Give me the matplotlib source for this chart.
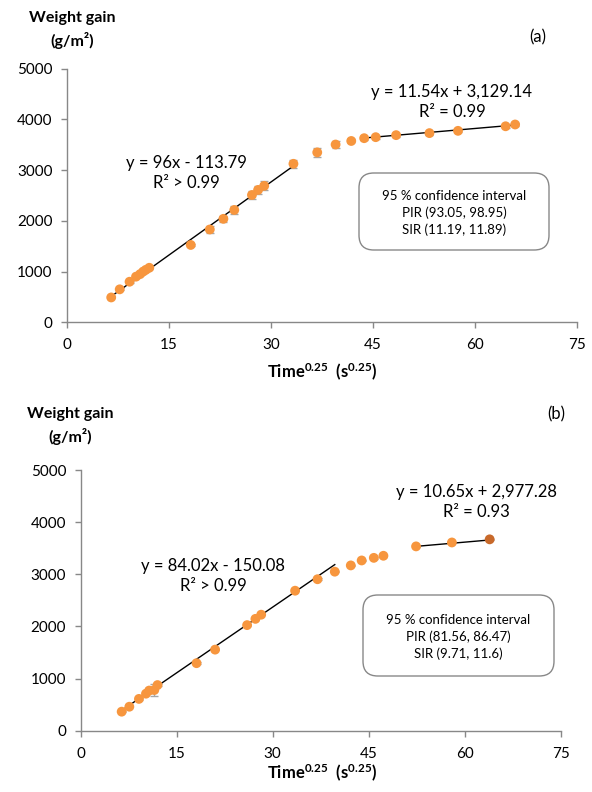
import matplotlib
matplotlib.use("Agg")
import matplotlib.pyplot as plt
from matplotlib.patches import FancyBboxPatch
import numpy as np

plt.rcParams['font.family'] = ['Lato', 'DejaVu Sans']
plt.rcParams['mathtext.fontset'] = 'custom'
plt.rcParams['mathtext.rm'] = 'Lato'
plt.rcParams['mathtext.bf'] = 'Lato:bold'

# ---- Panel (a) data ----
time_a = [6.5, 7.75, 9.2, 10.15, 10.75, 11.2, 11.6, 12.1, 18.2, 21.0, 23.0, 24.6,
          27.2, 28.1, 29.0, 33.3, 36.8, 39.5, 41.8, 43.7, 45.4, 48.4, 53.3, 57.5,
          64.5, 65.9]
gain_a = [490, 650, 800, 900, 950, 1000, 1035, 1075, 1525, 1830, 2040, 2215,
          2510, 2610, 2690, 3125, 3350, 3505, 3575, 3630, 3650, 3690, 3730, 3775,
          3865, 3900]
err_a = [20, 20, 20, 20, 20, 20, 20, 20, 20, 60, 60, 70,
         80, 80, 90, 80, 90, 60, 30, 30, 30, 30, 30, 30,
         30, 30]
fit1_a = (96.0, -113.79)       # slope, intercept
fit2_a = (11.54, 3129.14)
fit1_a_idx = (0, 15)           # first / last point used by each fit
fit2_a_idx = (19, 25)
eq1_a = "y = 96x - 113.79\nR² > 0.99"
eq2_a = "y = 11.54x + 3,129.14\nR² = 0.99"
ci_a = "95 % confidence interval\nPIR (93.05, 98.95)\nSIR (11.19, 11.89)"

# ---- Panel (b) data ----
time_b = [6.4, 7.6, 9.1, 10.2, 10.7, 11.5, 12.0, 18.1, 21.0, 26.0, 27.3, 28.2,
          33.5, 37.0, 39.7, 42.2, 43.9, 45.8, 47.3, 52.4, 58.0, 63.9]
gain_b = [365, 460, 610, 710, 770, 780, 875, 1295, 1555, 2025, 2145, 2225,
          2685, 2905, 3050, 3170, 3265, 3315, 3355, 3535, 3610, 3670]
err_b = [15, 15, 15, 15, 40, 120, 15, 15, 15, 15, 15, 15,
         15, 15, 15, 15, 15, 15, 15, 15, 15, 15]
fit1_b = (84.02, -150.08)
fit2_b = (10.65, 2977.28)
fit1_b_idx = (0, 14)
fit2_b_idx = (19, 21)
eq1_b = "y = 84.02x - 150.08\nR² > 0.99"
eq2_b = "y = 10.65x + 2,977.28\nR² = 0.93"
ci_b = "95 % confidence interval\nPIR (81.56, 86.47)\nSIR (9.71, 11.6)"

x_ticks = [0, 15, 30, 45, 60, 75]
y_ticks = [0, 1000, 2000, 3000, 4000, 5000]

ORANGE = '#F7963E'
DARK_ORANGE = '#C8692A'
AXIS_GREY = '#888888'
ERR_GREY = '#A6A6A6'

W, H = 592, 792
fig = plt.figure(figsize=(W / 100, H / 100), dpi=100)


def fpx(x, y):
    return x / W, 1 - y / H


def make_axes(left, right, top, bottom):
    l, t = fpx(left, top)
    r, b = fpx(right, bottom)
    return fig.add_axes([l, b, r - l, t - b])


def style_axes(ax):
    ax.set_xlim(0, 75)
    ax.set_ylim(0, 5000)
    ax.set_xticks(x_ticks)
    ax.set_yticks(y_ticks)
    for s in ('top', 'right'):
        ax.spines[s].set_visible(False)
    for s in ('left', 'bottom'):
        ax.spines[s].set_color(AXIS_GREY)
        ax.spines[s].set_linewidth(1.0)
    ax.tick_params(axis='both', direction='out', length=4.5, width=1.0,
                   color=AXIS_GREY, labelsize=11, labelcolor='black')
    ax.tick_params(axis='x', pad=7)
    ax.tick_params(axis='y', pad=6)


def draw_fit(ax, x, fit, idx):
    xs = np.array([x[idx[0]], x[idx[1]]])
    ax.plot(xs, fit[0] * xs + fit[1], color='black', lw=1.0, zorder=2)


def draw_panel(ax, x, y, err, fits, last_dark=False):
    ax.errorbar(x, y, yerr=err, fmt='none', ecolor=ERR_GREY, elinewidth=1.0,
                capsize=3, capthick=1.0, zorder=1)
    colors = [ORANGE] * len(x)
    if last_dark:
        colors[-1] = DARK_ORANGE
    ax.scatter(x, y, s=50, c=colors, edgecolors='none', zorder=3)
    for fit, idx in fits:
        draw_fit(ax, x, fit, idx)


def ci_box(x0, y0, x1, y1, text, text_y):
    (fx0, fy1) = fpx(x0, y1)
    (fx1, fy0) = fpx(x1, y0)
    patch = FancyBboxPatch((fx0, fy1), fx1 - fx0, fy0 - fy1,
                           boxstyle="round,pad=0,rounding_size=0.025",
                           transform=fig.transFigure, facecolor='white',
                           edgecolor=AXIS_GREY, linewidth=1.0,
                           mutation_aspect=W / H)
    fig.add_artist(patch)
    cx, cy = fpx((x0 + x1) / 2, text_y)
    fig.text(cx, cy, text, ha='center', va='center', fontsize=9.5,
             linespacing=1.45)


xlabel = r"$\mathbf{Time^{0.25}\ \,(s^{0.25})}$"

# ---- (a) ----
ax_a = make_axes(67, 577, 68.7, 322.3)
style_axes(ax_a)
draw_panel(ax_a, time_a, gain_a, err_a, [(fit1_a, fit1_a_idx), (fit2_a, fit2_a_idx)])
ax_a.text(17.6, 2946, eq1_a, ha='center', va='center', fontsize=12, linespacing=1.3)
ax_a.text(56.6, 4345, eq2_a, ha='center', va='center', fontsize=12, linespacing=1.3)
ci_box(359, 173, 549, 250, ci_a, 213)
fig.text(*fpx(72, 30), "Weight gain\n(g/m²)", ha='center', va='center',
         fontsize=11.5, fontweight='bold', linespacing=1.45)
fig.text(*fpx(538, 37), "(a)", ha='center', va='center', fontsize=12)
fig.text(*fpx(322, 372), xlabel, ha='center', va='center', fontsize=12)

# ---- (b) ----
ax_b = make_axes(80.7, 560.7, 470, 730.7)
style_axes(ax_b)
draw_panel(ax_b, time_b, gain_b, err_b, [(fit1_b, fit1_b_idx), (fit2_b, fit2_b_idx)],
           last_dark=True)
ax_b.text(20.7, 2960, eq1_b, ha='center', va='center', fontsize=12, linespacing=1.3)
ax_b.text(61.9, 4380, eq2_b, ha='center', va='center', fontsize=12, linespacing=1.3)
ci_box(363, 595, 554, 676, ci_b, 637)
fig.text(*fpx(70, 426), "Weight gain\n(g/m²)", ha='center', va='center',
         fontsize=11.5, fontweight='bold', linespacing=1.45)
fig.text(*fpx(556, 414), "(b)", ha='center', va='center', fontsize=12)
fig.text(*fpx(322, 773), xlabel, ha='center', va='center', fontsize=12)

fig.savefig("out.png", dpi=100)
